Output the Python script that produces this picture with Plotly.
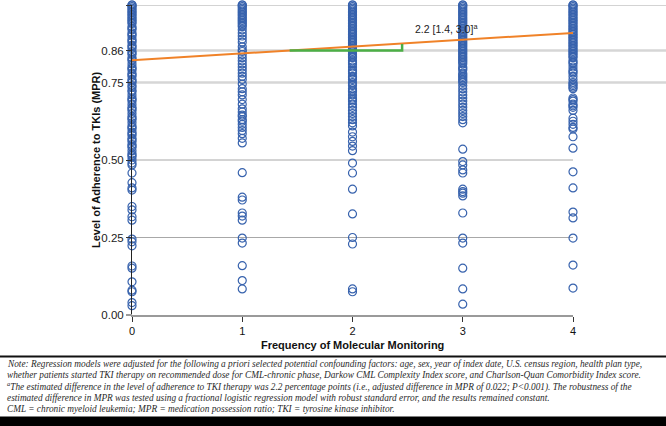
import plotly.graph_objects as go

# ---------------- data ----------------
monitoring_freq = [0, 1, 2, 3, 4]
x_tick_labels = ["0", "1", "2", "3", "4"]

mpr_0 = [1.00, 1.00, 0.995, 0.99, 0.985, 0.98, 0.975, 0.97, 0.965, 0.96, 0.955, 0.95, 0.945, 0.94,
         0.93, 0.925, 0.92, 0.91, 0.905, 0.90, 0.89, 0.885, 0.88, 0.87, 0.865, 0.86, 0.85, 0.845,
         0.84, 0.83, 0.825, 0.82, 0.81, 0.80, 0.795, 0.79, 0.78, 0.775, 0.77, 0.76, 0.755, 0.75,
         0.74, 0.735, 0.725, 0.72, 0.71, 0.70, 0.695, 0.69, 0.68, 0.67, 0.665, 0.66, 0.65, 0.64,
         0.635, 0.63, 0.62, 0.61, 0.605, 0.60, 0.59, 0.585, 0.58, 0.57, 0.565, 0.56, 0.55, 0.545,
         0.54, 0.53, 0.52, 0.515, 0.51, 0.50, 0.49, 0.484, 0.458, 0.427, 0.41, 0.403, 0.35, 0.339,
         0.317, 0.306, 0.245, 0.236, 0.223, 0.158, 0.151, 0.107, 0.08, 0.075, 0.04, 0.03]
mpr_1 = [1.00, 1.00, 0.995, 0.99, 0.985, 0.98, 0.975, 0.97, 0.965, 0.96, 0.955, 0.95, 0.945, 0.94,
         0.935, 0.93, 0.92, 0.91, 0.90, 0.89, 0.88, 0.865, 0.855, 0.85, 0.84, 0.83, 0.82, 0.81,
         0.80, 0.79, 0.78, 0.77, 0.76, 0.745, 0.73, 0.72, 0.71, 0.695, 0.68, 0.665, 0.655, 0.645,
         0.64, 0.63, 0.625, 0.615, 0.605, 0.595, 0.585, 0.57, 0.555, 0.459, 0.38, 0.371, 0.329,
         0.319, 0.306, 0.248, 0.232, 0.159, 0.111, 0.084]
mpr_2 = [1.00, 1.00, 0.995, 0.99, 0.985, 0.98, 0.975, 0.97, 0.965, 0.96, 0.955, 0.95, 0.945, 0.94,
         0.935, 0.93, 0.925, 0.92, 0.915, 0.91, 0.905, 0.90, 0.895, 0.89, 0.885, 0.88, 0.875, 0.87,
         0.865, 0.86, 0.855, 0.85, 0.845, 0.84, 0.835, 0.83, 0.82, 0.815, 0.81, 0.80, 0.79, 0.785,
         0.78, 0.77, 0.765, 0.76, 0.75, 0.745, 0.74, 0.73, 0.725, 0.72, 0.71, 0.70, 0.695, 0.69,
         0.68, 0.67, 0.66, 0.65, 0.64, 0.63, 0.62, 0.61, 0.59, 0.575, 0.56, 0.545, 0.53, 0.49,
         0.458, 0.406, 0.326, 0.25, 0.229, 0.084, 0.075]
mpr_3 = [1.00, 1.00, 0.995, 0.99, 0.985, 0.98, 0.975, 0.97, 0.965, 0.96, 0.955, 0.95, 0.945, 0.94,
         0.935, 0.93, 0.925, 0.92, 0.915, 0.91, 0.905, 0.90, 0.895, 0.89, 0.885, 0.88, 0.875, 0.87,
         0.865, 0.86, 0.855, 0.85, 0.845, 0.84, 0.835, 0.83, 0.825, 0.82, 0.815, 0.81, 0.80, 0.795,
         0.79, 0.78, 0.775, 0.77, 0.765, 0.76, 0.755, 0.75, 0.74, 0.73, 0.72, 0.71, 0.70, 0.69,
         0.68, 0.67, 0.66, 0.65, 0.64, 0.63, 0.62, 0.535, 0.495, 0.484, 0.468, 0.458, 0.406, 0.398,
         0.393, 0.384, 0.329, 0.248, 0.232, 0.151, 0.084, 0.035]
mpr_4 = [1.00, 1.00, 0.995, 0.99, 0.985, 0.98, 0.975, 0.97, 0.965, 0.96, 0.955, 0.95, 0.945, 0.94,
         0.935, 0.93, 0.925, 0.92, 0.915, 0.91, 0.905, 0.90, 0.895, 0.89, 0.885, 0.88, 0.875, 0.87,
         0.865, 0.86, 0.855, 0.85, 0.845, 0.84, 0.835, 0.83, 0.82, 0.815, 0.81, 0.80, 0.79, 0.785,
         0.78, 0.77, 0.76, 0.75, 0.745, 0.74, 0.735, 0.73, 0.70, 0.695, 0.69, 0.68, 0.675, 0.67,
         0.66, 0.635, 0.625, 0.615, 0.605, 0.60, 0.575, 0.538, 0.462, 0.41, 0.332, 0.313, 0.248,
         0.161, 0.087]

# regression fit line (adjusted difference 0.022 per monitoring test)
fit_x = [0, 4]
fit_y = [0.822, 0.910]

# estimated-difference bracket
bracket_x = [1.43, 2.45, 2.45]
bracket_y = [0.853, 0.853, 0.874]
bracket_label = "2.2 [1.4, 3.0]<sup>a</sup>"
bracket_label_pos = (2.55, 0.925)

y_tick_vals = [0.0, 0.25, 0.50, 0.75, 0.853, 1.00]
y_tick_labels = ["0.00", "0.25", "0.50", "0.75", "0.86", "1.00"]

note_lines = [
    "Note: Regression models were adjusted for the following a priori selected potential confounding factors: age, sex, year of index date, U.S. census region, health plan type,",
    "whether patients started TKI therapy on recommended dose for CML-chronic phase, Darkow CML Complexity Index score, and Charlson-Quan Comorbidity Index score.",
    "<sup>a</sup>The estimated difference in the level of adherence to TKI therapy was 2.2 percentage points (i.e., adjusted difference in MPR of 0.022; P&lt;0.001). The robustness of the",
    "estimated difference in MPR was tested using a fractional logistic regression model with robust standard error, and the results remained constant.",
    "CML = chronic myeloid leukemia; MPR = medication possession ratio; TKI = tyrosine kinase inhibitor.",
]

# ---------------- layout geometry (pixels) ----------------
W, H = 666, 426
L, R, T, B = 132, 573, 5, 315  # plot area


def px_x(px):
    return (px - L) / (R - L)


def px_y(py):
    return (B - py) / (B - T)


columns = [mpr_0, mpr_1, mpr_2, mpr_3, mpr_4]
xs, ys = [], []
for f, col in zip(monitoring_freq, columns):
    xs += [f] * len(col)
    ys += col

fig = go.Figure()
fig.add_trace(go.Scatter(
    x=xs, y=ys, mode="markers", cliponaxis=False,
    marker=dict(symbol="circle-open", size=8, color="#3762ad", line=dict(width=1.2)),
    hoverinfo="skip", showlegend=False))
fig.add_trace(go.Scatter(
    x=fit_x, y=fit_y, mode="lines", cliponaxis=False,
    line=dict(color="#f08228", width=2), showlegend=False))
fig.add_trace(go.Scatter(
    x=bracket_x, y=bracket_y, mode="lines", cliponaxis=False,
    line=dict(color="#4caf46", width=2.5), showlegend=False))

shapes = []
grid_styles = {
    1.00: ("#a8a8a8", 1, px_x(W)),
    0.853: ("#d6d6d6", 2.5, px_x(W)),
    0.75: ("#d6d6d6", 2.5, px_x(W)),
    0.50: ("#a8a8a8", 1, 1.0),
    0.25: ("#a8a8a8", 1, 1.0),
}
for yv, (c, w, x1) in grid_styles.items():
    shapes.append(dict(type="line", xref="paper", yref="y", x0=0, x1=x1, y0=yv, y1=yv,
                       line=dict(color=c, width=w), layer="below"))
# x-axis extension to the left of y axis
shapes.append(dict(type="line", xref="paper", yref="paper", x0=px_x(126), x1=0, y0=0, y1=0,
                   line=dict(color="#9a9a9a", width=2)))
# note box rules
shapes.append(dict(type="line", xref="paper", yref="paper", x0=px_x(0), x1=px_x(W),
                   y0=px_y(356.5), y1=px_y(356.5), line=dict(color="#111", width=2)))
shapes.append(dict(type="rect", xref="paper", yref="paper", x0=px_x(0), x1=px_x(W),
                   y0=px_y(426), y1=px_y(416.5), line=dict(width=0), fillcolor="#000"))

annotations = [
    dict(text=bracket_label, x=bracket_label_pos[0], y=bracket_label_pos[1], xref="x", yref="y",
         xanchor="left", yanchor="middle", showarrow=False,
         font=dict(family="Liberation Sans, Arial", size=10.5, color="#222")),
    dict(text="<b>Frequency of Molecular Monitoring</b>", x=px_x(352), y=px_y(345), xref="paper",
         yref="paper", xanchor="center", yanchor="middle", showarrow=False,
         font=dict(family="Liberation Sans, Arial", size=11, color="#111")),
    dict(text="<b>Level of Adherence to TKIs (MPR)</b>", x=px_x(96), y=px_y(160), xref="paper",
         yref="paper", xanchor="center", yanchor="middle", showarrow=False, textangle=-90,
         font=dict(family="Liberation Sans, Arial", size=11, color="#111")),
]
note_y = [363.5, 375, 386.5, 397.5, 408.5]
for txt, py in zip(note_lines, note_y):
    annotations.append(dict(text="<i>" + txt + "</i>", x=px_x(5), y=px_y(py), xref="paper",
                            yref="paper", xanchor="left", yanchor="middle", showarrow=False,
                            font=dict(family="Liberation Serif, Times New Roman", size=9.3,
                                      color="#2a2a2a")))

fig.update_layout(
    width=W, height=H, margin=dict(l=L, r=W - R, t=T, b=H - B, pad=0),
    paper_bgcolor="white", plot_bgcolor="white",
    shapes=shapes, annotations=annotations, showlegend=False,
    xaxis=dict(range=[0, 4], tickvals=monitoring_freq, ticktext=x_tick_labels,
               showgrid=False, zeroline=False, showline=True, linecolor="#9a9a9a", linewidth=2,
               ticks="outside", ticklen=5, tickcolor="#333", tickwidth=1,
               tickfont=dict(family="Liberation Sans, Arial", size=11, color="#111")),
    yaxis=dict(range=[0, 1], tickvals=y_tick_vals, ticktext=y_tick_labels,
               showgrid=False, zeroline=False, showline=True, linecolor="#222", linewidth=1,
               ticks="outside", ticklen=5, tickcolor="#333", tickwidth=1,
               tickfont=dict(family="Liberation Sans, Arial", size=11.5, color="#222")),
)

fig.write_html("out.html", config={"displayModeBar": False},
               post_script="document.body.style.margin='0';document.body.style.padding='0';")
